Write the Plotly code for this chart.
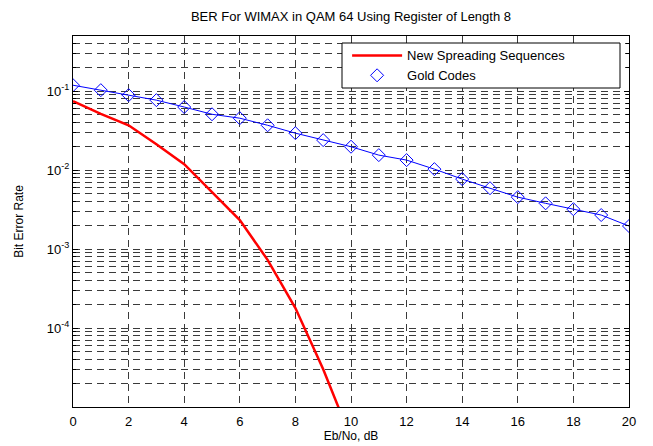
import plotly.graph_objects as go
import numpy as np

# Data
ebno_gold = list(range(0, 21))
ber_gold = [0.119, 0.103, 0.089, 0.077, 0.063, 0.051, 0.0455, 0.037, 0.0294, 0.024,
            0.0198, 0.0155, 0.0134, 0.0103, 0.0077, 0.0059, 0.00455, 0.0038, 0.0032,
            0.0027, 0.00196]

ebno_new = [0, 1, 2, 3, 4, 5, 6, 7, 8, 9, 10]
ber_new = [0.0747, 0.0516, 0.037, 0.0213, 0.0119, 0.0053, 0.00233, 0.00073,
           0.000179, 0.00003, 0.000004]

y_major = [1e-4, 1e-3, 1e-2, 1e-1]
y_major_text = ["10<sup>-4</sup>", "10<sup>-3</sup>", "10<sup>-2</sup>", "10<sup>-1</sup>"]
y_minor = [k * 10.0 ** e for e in range(-5, 0) for k in range(2, 10) if k * 10.0 ** e < 0.5]

FONT = "Liberation Sans, Arial, sans-serif"
GRID = "#3a3a3a"

fig = go.Figure()
fig.add_trace(go.Scatter(
    x=ebno_new, y=ber_new, mode="lines", name="New Spreading Sequences",
    line=dict(color="#ff0000", width=2.5),
))
fig.add_trace(go.Scatter(
    x=ebno_gold, y=ber_gold, mode="lines", showlegend=False,
    line=dict(color="#0000ff", width=1),
))
fig.add_trace(go.Scatter(
    x=ebno_gold, y=ber_gold, mode="markers", name="Gold Codes",
    marker=dict(symbol="diamond-open", size=10, color="#0000ff", line=dict(width=1, color="#0000ff")),
))

fig.update_layout(
    width=653, height=446,
    margin=dict(l=73, r=24, t=36, b=39),
    paper_bgcolor="white", plot_bgcolor="white",
    font=dict(family=FONT, size=12, color="black"),
    title=dict(text="BER For WIMAX in QAM 64 Using Register of Length 8",
               x=0.5375, xanchor="center", y=0.963, yanchor="middle",
               font=dict(size=13, family=FONT, color="black")),
    showlegend=True,
    legend=dict(x=0.493, xanchor="left", y=0.988, yanchor="top",
                bgcolor="rgba(0,0,0,0)", borderwidth=0,
                font=dict(size=13, family=FONT, color="black"),
                tracegroupgap=0, itemwidth=50),
    shapes=[dict(type="rect", xref="paper", yref="paper",
                 x0=(342 - 73) / 556, x1=(620 - 73) / 556,
                 y0=(407 - 88) / 371, y1=(407 - 43) / 371,
                 line=dict(color="black", width=1), fillcolor="white", layer="above")],
)

fig.update_xaxes(
    range=[0, 20], dtick=2, tick0=0, automargin=False,
    title=dict(text="Eb/No, dB", font=dict(size=12, family=FONT), standoff=0),
    tickfont=dict(size=13, family=FONT),
    showline=True, linecolor="black", linewidth=1, mirror=True,
    ticks="outside", ticklen=2, tickcolor="rgba(255,255,255,0)",
    showgrid=True, gridcolor=GRID, griddash="7px,5px", gridwidth=1,
    zeroline=False,
)
fig.update_yaxes(
    type="log", range=[-5, np.log10(0.5)], automargin=False,
    tickmode="array", tickvals=y_major, ticktext=y_major_text,
    title=dict(text="Bit Error Rate", font=dict(size=12, family=FONT), standoff=20),
    tickfont=dict(size=13, family=FONT),
    showline=True, linecolor="black", linewidth=1, mirror="allticks",
    ticks="inside", ticklen=5, tickcolor="black",
    showgrid=True, gridcolor=GRID, griddash="7px,5px", gridwidth=1,
    minor=dict(tickmode="array", tickvals=y_minor, ticks="inside", ticklen=3,
               tickcolor="black", showgrid=True, gridcolor=GRID,
               griddash="7px,5px", gridwidth=1),
    zeroline=False,
)

fig.write_html("out.html")
